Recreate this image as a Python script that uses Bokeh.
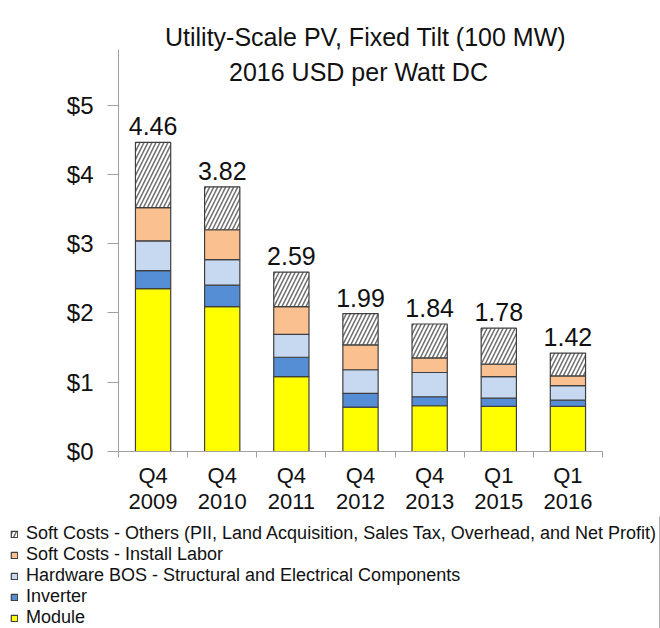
import numpy as np
from bokeh.plotting import figure
from bokeh.layouts import column
from bokeh.models import (Range1d, FixedTicker, NumeralTickFormatter, Legend,
                          LegendItem, Label, ColumnDataSource)
from bokeh.core.properties import value
from bokeh.embed import file_html
from bokeh.resources import INLINE

# ---- data ----
periods = ["Q4\n2009", "Q4\n2010", "Q4\n2011", "Q4\n2012", "Q4\n2013", "Q1\n2015", "Q1\n2016"]
module = [2.35, 2.09, 1.08, 0.64, 0.66, 0.65, 0.65]
inverter = [0.26, 0.31, 0.28, 0.20, 0.13, 0.12, 0.09]
hardware_bos = [0.43, 0.37, 0.33, 0.34, 0.35, 0.31, 0.21]
install_labor = [0.48, 0.43, 0.40, 0.36, 0.21, 0.18, 0.14]
soft_others = [0.94, 0.62, 0.50, 0.45, 0.49, 0.52, 0.33]
totals = [4.46, 3.82, 2.59, 1.99, 1.84, 1.78, 1.42]
y_ticks = [0, 1, 2, 3, 4, 5]
y_axis_max = 5.80
series_names = [
    "Module",
    "Inverter",
    "Hardware BOS - Structural and Electrical Components",
    "Soft Costs - Install Labor",
    "Soft Costs - Others (PII, Land Acquisition, Sales Tax, Overhead, and Net Profit)",
]
title_line1 = "Utility-Scale PV, Fixed Tilt (100 MW)"
title_line2 = "2016 USD per Watt DC"

colors = ["#FFFF00", "#558ED5", "#C6D9F1", "#FAC090", "#FFFFFF"]
hatches = [" ", " ", " ", " ", "/"]
FONT = "Liberation Sans"
TXT = "#111111"
OUTLINE = "#3F3F3F"
HATCH = dict(hatch_color="#6E6E6E", hatch_scale=8, hatch_weight=1.5)

n = len(periods)
xc = np.arange(n) + 0.5
keys = ["module", "inverter", "hardware_bos", "install_labor", "soft_others"]
src = ColumnDataSource(dict(
    x=xc, module=module, inverter=inverter, hardware_bos=hardware_bos,
    install_labor=install_labor, soft_others=soft_others,
    total=totals, label=["%.2f" % t for t in totals],
))

# main chart: frame spans from the top of the canvas to the x axis
FRAME_H = 453
BOTTOM = 63
PX_PER_UNIT = 69.6
y_top = FRAME_H / PX_PER_UNIT

p = figure(width=660, height=FRAME_H + BOTTOM, x_range=Range1d(0, n),
           y_range=Range1d(0, y_top),
           output_backend="svg", toolbar_location=None,
           min_border_left=118, min_border_right=58, min_border_top=0,
           min_border_bottom=BOTTOM)
p.frame_align = False
p.outline_line_color = None
p.xgrid.visible = False
p.ygrid.visible = False

renderers = p.vbar_stack(keys, x="x", width=0.51, source=src,
                         fill_color=colors, line_color=OUTLINE, line_width=1.2,
                         hatch_pattern=hatches, **HATCH)

p.text(x="x", y="total", text="label", source=src, text_align="center",
       text_baseline="alphabetic", y_offset=-16,
       text_font=value(FONT), text_font_size="25px", text_color=TXT)

axis_col = "#A0A0A0"
xa = p.xaxis[0]
xa.ticker = FixedTicker(ticks=list(xc), minor_ticks=list(range(n + 1)))
xa.major_label_overrides = {float(v): lab for v, lab in zip(xc, periods)}
xa.major_tick_out = 0
xa.major_tick_in = 0
xa.minor_tick_out = 6
xa.minor_tick_in = 0
xa.axis_line_color = axis_col
xa.minor_tick_line_color = axis_col
xa.major_label_standoff = 5
xa.major_label_text_font = FONT
xa.major_label_text_font_size = "22px"
xa.major_label_text_color = TXT
xa.major_label_text_line_height = 1.05

ya = p.yaxis[0]
ya.ticker = FixedTicker(ticks=y_ticks)
ya.formatter = NumeralTickFormatter(format="$0")
ya.bounds = (0, y_axis_max)
ya.major_tick_out = 11
ya.major_tick_in = 0
ya.minor_tick_line_color = None
ya.axis_line_color = axis_col
ya.major_tick_line_color = axis_col
ya.major_label_standoff = 14
ya.major_label_text_font = FONT
ya.major_label_text_font_size = "24px"
ya.major_label_text_color = TXT

# two-line title, drawn inside the (tall) frame
for txt, yv, xo in [(title_line1, 5.977, 5), (title_line2, 5.47, -2)]:
    p.add_layout(Label(x=n / 2, y=yv, x_offset=xo, text=txt, text_align="center",
                       text_baseline="alphabetic", text_font=FONT,
                       text_font_size="25px", text_color=TXT))

# legend strip below the chart
LEG_H = 628 - (FRAME_H + BOTTOM)
lg = figure(width=660, height=LEG_H, x_range=Range1d(0, 1), y_range=Range1d(0, 1),
            output_backend="svg", toolbar_location=None,
            x_axis_location=None, y_axis_location=None,
            min_border=0, min_border_left=0, min_border_right=0,
            min_border_top=0, min_border_bottom=0)
lg.frame_align = False
lg.outline_line_color = None
lg.xgrid.visible = False
lg.ygrid.visible = False
proxies = []
for c, h in zip(colors, hatches):
    # one bar placed outside the visible range: only its style is used by the legend
    proxies.append(lg.vbar(x=[5], top=[1], width=0.5, fill_color=c,
                           line_color=OUTLINE, line_width=1.2,
                           hatch_pattern=h, **HATCH))
items = [LegendItem(label=name, renderers=[r]) for name, r in zip(series_names, proxies)][::-1]
legend = Legend(items=items, location=(10, 0), orientation="vertical",
                glyph_width=8, glyph_height=8, label_standoff=8,
                padding=0, margin=0, spacing=0, label_height=20,
                label_text_font=FONT, label_text_font_size="18px",
                label_text_color=TXT, border_line_color=None,
                background_fill_alpha=0)
lg.add_layout(legend)

layout = column(p, lg, spacing=0)
open("out.html", "w").write(file_html(layout, INLINE))
